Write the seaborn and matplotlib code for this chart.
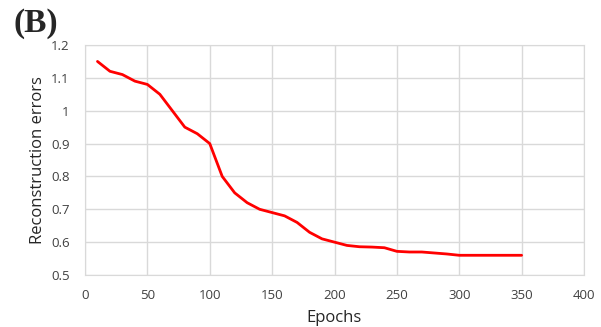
import numpy as np
import pandas as pd
import seaborn as sns
import matplotlib.pyplot as plt
from matplotlib import font_manager

epochs = [10, 20, 30, 40, 50, 60, 70, 80, 90, 100,
          110, 120, 130, 140, 150, 160, 170, 180, 190, 200,
          210, 220, 230, 240, 250, 260, 270, 280, 290, 300,
          310, 320, 330, 340, 350]
errors = [1.15, 1.12, 1.11, 1.09, 1.08, 1.05, 1.00, 0.95, 0.93, 0.90,
          0.80, 0.75, 0.72, 0.70, 0.69, 0.68, 0.66, 0.63, 0.61, 0.60,
          0.59, 0.586, 0.585, 0.583, 0.572, 0.57, 0.57, 0.567, 0.564, 0.56,
          0.56, 0.56, 0.56, 0.56, 0.56]

data = pd.DataFrame({"epoch": epochs, "error": errors})

sns.set_style("white")
plt.rcParams["font.family"] = ["Open Sans", "DejaVu Sans"]

installed = {f.name for f in font_manager.fontManager.ttflist}
tick_font = "Liberation Sans Narrow" if "Liberation Sans Narrow" in installed else "Open Sans"

fig = plt.figure(figsize=(6.01, 3.27), dpi=100)
ax = fig.add_axes([85 / 601, 1 - 275 / 327, 499 / 601, 230 / 327])

sns.lineplot(data, x="epoch", y="error", color="#ff0000", linewidth=2, ax=ax)

ax.set_xlim(0, 400)
ax.set_ylim(0.5, 1.2)
ax.set_xticks(range(0, 401, 50))
ax.set_yticks(np.round(np.arange(0.5, 1.21, 0.1), 1))
ax.set_yticklabels(["0.5", "0.6", "0.7", "0.8", "0.9", "1", "1.1", "1.2"])
ax.grid(True, color="#d9d9d9", linewidth=1)
for s in ax.spines.values():
    s.set_color("#d9d9d9")
ax.tick_params(length=0, labelsize=9.5, colors="#404040")
ax.tick_params(axis="x", pad=10)
ax.tick_params(axis="y", pad=11)
for lab in ax.get_xticklabels() + ax.get_yticklabels():
    lab.set_family(tick_font)
ax.set_xlabel("Epochs", fontsize=12, color="#262626", labelpad=6)
ax.set_ylabel("Reconstruction errors", fontsize=12, color="#262626", labelpad=4)

fig.text(0.022, 0.975, "(B)", fontsize=24, fontweight="bold",
         family="Liberation Serif", va="top", ha="left")

plt.savefig("out.png", dpi=100)
